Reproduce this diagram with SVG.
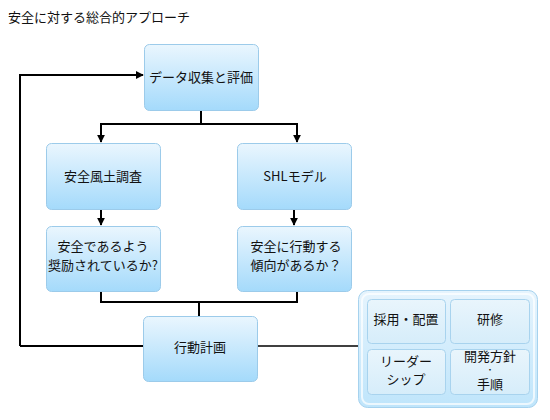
<svg xmlns="http://www.w3.org/2000/svg" width="550" height="420" viewBox="0 0 550 420">
<defs>
<linearGradient id="boxg" x1="0" y1="0" x2="0" y2="1">
<stop offset="0" stop-color="#eaf6fe"/>
<stop offset="1" stop-color="#a4dafb"/>
</linearGradient>
<linearGradient id="panelg" x1="0" y1="0" x2="0" y2="1">
<stop offset="0" stop-color="#e6f4fd"/>
<stop offset="1" stop-color="#bfe5fb"/>
</linearGradient>
<linearGradient id="cellg" x1="0" y1="0" x2="0" y2="1">
<stop offset="0" stop-color="#e9f5fc"/>
<stop offset="1" stop-color="#d6edfa"/>
</linearGradient>
<marker id="arr" viewBox="0 0 10 10" refX="9" refY="5" markerWidth="4" markerHeight="4" orient="auto" markerUnits="strokeWidth">
<path d="M0,0 L10,5 L0,10 z" fill="#000"/>
</marker>
</defs>
<style>
text{font-family:"Noto Sans CJK JP","Noto Sans",sans-serif;font-size:13px;fill:#111;}
.c{text-anchor:middle;}
.box{fill:url(#boxg);stroke:#9ccbea;stroke-width:1;}
.cell{fill:url(#cellg);stroke:#a8d3ee;stroke-width:1;}
.ln{fill:none;stroke:#000;stroke-width:2;}
.ar{marker-end:url(#arr);}
</style>
<rect width="550" height="420" fill="#fff"/>
<text x="8" y="22">安全に対する総合的アプローチ</text>
<g id="connectors">
<path class="ln ar" d="M20,346 V75 H143"/>
<path class="ln" d="M143,346 H20"/>
<path class="ln" d="M201,110 V124 M101,124 H297"/>
<path class="ln ar" d="M101,123 V142"/>
<path class="ln ar" d="M297,123 V142"/>
<path class="ln ar" d="M101,209 V225"/>
<path class="ln ar" d="M294,209 V225"/>
<path class="ln" d="M101,291 V302 H297 V291 M199,302 V316"/>
<path class="ln" d="M257,346 H358" style="stroke-width:1.5"/>
</g>
<g id="n_data"><rect class="box" x="144.5" y="44.5" width="114" height="66" rx="5"/><text class="c" x="201" y="82">データ収集と評価</text></g>
<g id="n_culture"><rect class="box" x="46.5" y="143.5" width="114" height="66" rx="5"/><text class="c" x="103" y="181">安全風土調査</text></g>
<g id="n_shl"><rect class="box" x="237.5" y="143.5" width="114" height="66" rx="5"/><text class="c" x="295" y="181">SHLモデル</text></g>
<g id="n_q1"><rect class="box" x="46.5" y="226.5" width="114" height="65" rx="5"/><text class="c" x="103" y="251">安全であるよう</text><text class="c" x="103" y="270">奨励されているか?</text></g>
<g id="n_q2"><rect class="box" x="237.5" y="226.5" width="114" height="65" rx="5"/><text class="c" x="296" y="251">安全に行動する</text><text class="c" x="296" y="270">傾向があるか？</text></g>
<g id="n_plan"><rect class="box" x="143.5" y="316.5" width="114" height="65" rx="5"/><text class="c" x="200" y="352">行動計画</text></g>
<g id="n_panel">
<rect x="358.5" y="290.5" width="179" height="117" rx="9" fill="url(#panelg)" stroke="#a6d2ee"/>
<rect x="362" y="294" width="172" height="110" rx="7" fill="none" stroke="#ffffff" stroke-opacity="0.7" stroke-width="2"/>
<g id="n_hire"><rect class="cell" x="367.5" y="299.5" width="78" height="44" rx="4"/><text class="c" x="406" y="324">採用・配置</text></g>
<g id="n_train"><rect class="cell" x="450.5" y="299.5" width="79" height="44" rx="4"/><text class="c" x="490" y="324">研修</text></g>
<g id="n_lead"><rect class="cell" x="367.5" y="349.5" width="78" height="45" rx="4"/><text class="c" x="406" y="366">リーダー</text><text class="c" x="406" y="384">シップ</text></g>
<g id="n_policy"><rect class="cell" x="450.5" y="349.5" width="79" height="45" rx="4"/><text class="c" x="490" y="361">開発方針</text><text class="c" x="490" y="373" style="font-size:8px">・</text><text class="c" x="490" y="389">手順</text></g>
</g>
</svg>
